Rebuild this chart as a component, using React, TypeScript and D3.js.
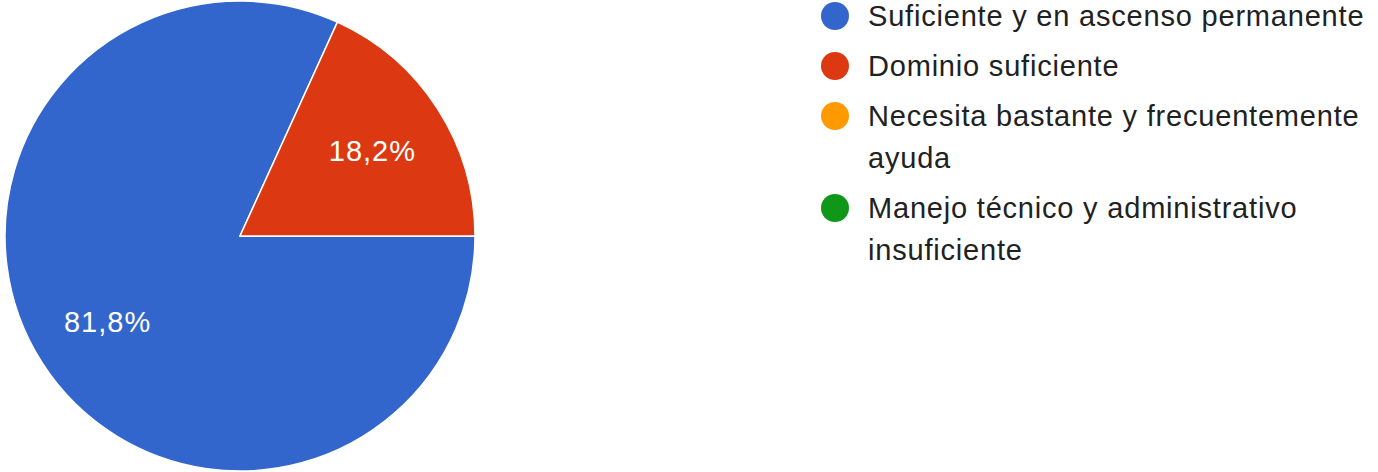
import React, { useRef, useEffect } from 'react';
import * as d3 from 'd3';

const categories = [
  'Suficiente y en ascenso permanente',
  'Dominio suficiente',
  'Necesita bastante y frecuentemente ayuda',
  'Manejo técnico y administrativo insuficiente',
];
const percents = [81.8, 18.2, 0, 0];
const colors = ['#3366cc', '#dc3912', '#ff9900', '#109618'];

const WIDTH = 1378;
const HEIGHT = 472;
const FONT = '"Liberation Sans", Arial, sans-serif';

export default function App() {
  const ref = useRef<SVGSVGElement>(null);

  useEffect(() => {
    if (!ref.current) return;
    const svg = d3.select(ref.current);
    svg.selectAll('*').remove();

    const cx = 240;
    const cy = 236;
    const radius = 235;

    const data = categories.map((c, i) => ({ name: c, value: percents[i], color: colors[i] }));

    // google forms pies start at 3 o'clock
    const pie = d3
      .pie<any>()
      .value(d => d.value)
      .sort(null)
      .startAngle(Math.PI / 2)
      .endAngle(Math.PI / 2 + Math.PI * 2);

    const arc = d3.arc<any>().innerRadius(0).outerRadius(radius);
    const labelArc = d3.arc<any>().innerRadius(radius * 0.67).outerRadius(radius * 0.67);

    const arcs = pie(data).filter(a => a.data.value > 0);
    const g = svg.append('g').attr('transform', `translate(${cx},${cy})`);

    g.selectAll('path')
      .data(arcs)
      .enter()
      .append('path')
      .attr('d', arc)
      .attr('fill', d => d.data.color)
      .attr('stroke', '#fff')
      .attr('stroke-width', 1.5);

    g.selectAll('text')
      .data(arcs)
      .enter()
      .append('text')
      .attr('transform', d => `translate(${labelArc.centroid(d)})`)
      .attr('text-anchor', 'middle')
      .attr('dy', '0.36em')
      .attr('fill', '#fff')
      .style('font-family', FONT)
      .style('font-size', '29px')
      .style('letter-spacing', '1px')
      .text(d => d.data.value.toFixed(1).replace('.', ',') + '%');

    // legend
    const legend = svg.append('g').attr('transform', 'translate(835, 16)');
    const maxWidth = 510;
    const lineHeight = 42;
    let y = 0;
    data.forEach(d => {
      const row = legend.append('g').attr('transform', `translate(0, ${y})`);
      row.append('circle').attr('r', 14).attr('fill', d.color);
      const text = row
        .append('text')
        .attr('x', 33)
        .attr('fill', '#212121')
        .style('font-family', FONT)
        .style('font-size', '29px')
        .style('letter-spacing', '0.8px');
      const words = d.name.split(' ');
      let line: string[] = [];
      let lineNo = 0;
      let tspan = text.append('tspan').attr('x', 33).attr('dy', '0.36em');
      words.forEach(w => {
        line.push(w);
        tspan.text(line.join(' '));
        if ((tspan.node() as SVGTSpanElement).getComputedTextLength() > maxWidth && line.length > 1) {
          line.pop();
          tspan.text(line.join(' '));
          line = [w];
          lineNo++;
          tspan = text.append('tspan').attr('x', 33).attr('dy', lineHeight).text(w);
        }
      });
      y += 50 + lineNo * lineHeight;
    });
  }, []);

  return (
    <svg
      ref={ref}
      width={WIDTH}
      height={HEIGHT}
      style={{ position: 'absolute', left: 0, top: 0, background: '#fff' }}
    />
  );
}
